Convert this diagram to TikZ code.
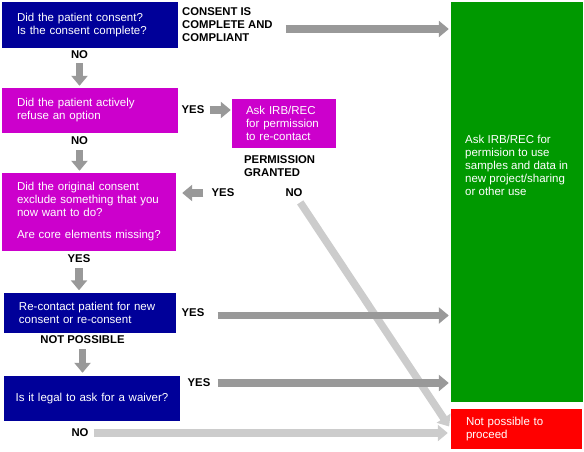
\documentclass[tikz,border=0pt]{standalone}
\usepackage{fontspec}
\setmainfont{Liberation Sans}
\usetikzlibrary{arrows.meta}

\definecolor{qnavy}{RGB}{0,0,153}
\definecolor{qpink}{RGB}{204,0,204}
\definecolor{okgreen}{RGB}{0,153,0}
\definecolor{stopred}{RGB}{255,0,0}
\definecolor{arrowdark}{RGB}{153,153,153}
\definecolor{arrowlight}{RGB}{204,204,204}

\begin{document}
\begin{tikzpicture}[x=1pt,y=-1pt]

\tikzstyle{connector} = [draw=arrowdark, line width=7.5pt, -{Triangle[length=10pt,width=16pt]}]
\tikzstyle{faint} = [connector, draw=arrowlight]
\tikzstyle{question} = [rectangle, text=white, align=left, inner xsep=15pt, inner ysep=0pt, font=\fontsize{11.5}{13}\selectfont]
\tikzstyle{answer} = [inner sep=1pt, font=\bfseries\fontsize{11.3}{13}\selectfont]

\useasboundingbox (0,0) rectangle (584,452);

\node [question, fill=qnavy, text width=146pt, minimum height=46pt] at (90,25) (consent) {Did the patient consent?\\Is the consent complete?};
\node [question, fill=qpink, text width=146pt, minimum height=45pt] at (90,110.5) (refuse) {Did the patient actively\\refuse an option};
\node [question, fill=qpink, text width=76pt, inner xsep=14pt, minimum height=49pt] at (284,123.5) (irb) {Ask IRB/REC\\for permission\\to re-contact};
\node [question, fill=qpink, text width=144pt, minimum height=78pt] at (89,212) (exclude) {Did the original consent\\exclude something that you\\now want to do?\\[9pt]Are core elements missing?};
\node [question, fill=qnavy, text width=142pt, minimum height=40pt] at (90,312.5) (recontact) {Re-contact patient for new\\consent or re-consent};
\node [question, fill=qnavy, text width=164pt, inner xsep=6pt, align=center, minimum height=45pt] at (92,398.5) (waiver) {Is it legal to ask for a waiver?};
\node [rectangle, fill=okgreen, minimum width=132pt, minimum height=400pt] at (517,202) (approve) {};
\node [question, anchor=west, inner xsep=0pt] at (465,165.5) (approvetxt) {Ask IRB/REC for\\permision to use\\samples and data in\\new project/sharing\\or other use};
\node [question, fill=stopred, text width=101pt, minimum height=40pt] at (516.5,429) (stop) {Not possible to\\proceed};

\node [answer, anchor=west, align=left] at (181,25) (compliant) {CONSENT IS\\COMPLETE AND\\COMPLIANT};
\node [answer] at (79.5,55) (no1) {NO};
\node [answer] at (193,110) (yes1) {YES};
\node [answer, anchor=west, align=left] at (243,166.5) (granted) {PERMISSION\\GRANTED};
\node [answer] at (79.5,141) (no2) {NO};
\node [answer] at (223,193) (yes2) {YES};
\node [answer] at (294,193) (no3) {NO};
\node [answer] at (79,259) (yes3) {YES};
\node [answer] at (193,313) (yes4) {YES};
\node [answer] at (82.5,340) (notposs) {NOT POSSIBLE};
\node [answer] at (199,383) (yes5) {YES};
\node [answer] at (80,433) (no5) {NO};

\path [connector, shorten <=12pt, shorten >=2pt] ([yshift=-4pt]compliant.east) -- ([yshift=-4pt]compliant.east -| approve.west);
\path [connector, shorten <=3pt, shorten >=2pt] (no1.south) -- (no1.south |- refuse.north);
\path [connector, shorten <=4pt, shorten >=1pt] (yes1.east) -- (yes1.east -| irb.west);
\path [connector, shorten <=4pt, shorten >=2pt] (no2.south) -- (no2.south |- exclude.north);
\path [connector, shorten <=7pt, shorten >=6pt] (yes2.west) -- (yes2.west -| exclude.east);
\path [faint, shorten <=5pt, shorten >=3pt] (no3) -- (stop.west);
\path [connector, shorten <=4pt, shorten >=2pt] (yes3.south) -- (yes3.south |- recontact.north);
\path [connector, shorten <=12pt, shorten >=2pt] ([yshift=-2.5pt]yes4.east) -- ([yshift=-2.5pt]yes4.east -| approve.west);
\path [connector, shorten <=4pt, shorten >=3pt] (notposs.south) -- (notposs.south |- waiver.north);
\path [connector, shorten <=6pt, shorten >=2pt] (yes5.east) -- (yes5.east -| approve.west);
\path [faint, shorten <=4pt, shorten >=3pt] (no5.east) -- (no5.east -| stop.west);

\end{tikzpicture}
\end{document}
